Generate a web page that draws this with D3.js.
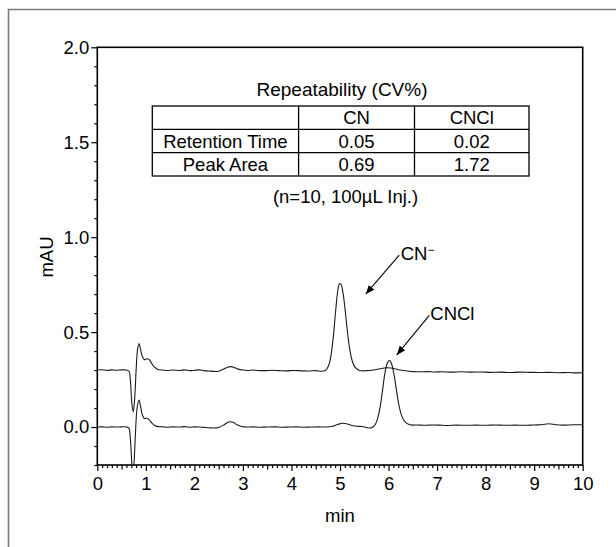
<!DOCTYPE html>
<html>
<head>
<meta charset="utf-8">
<script src="https://cdn.jsdelivr.net/npm/d3@7/dist/d3.min.js"></script>
<style>
  body { margin: 0; background: #fff; }
  svg text { font-family: "Liberation Sans", Arial, sans-serif; fill: #000; }
</style>
</head>
<body>
<svg id="chart" width="616" height="547"></svg>
<script>
// chromatogram traces: [min, mAU]
const cnTrace = [
  [0, 0.300], [0.1, 0.302], [0.2, 0.298], [0.3, 0.301], [0.4, 0.299], [0.5, 0.301], [0.6, 0.300],
  [0.65, 0.295], [0.68, 0.25], [0.71, 0.13], [0.74, 0.08], [0.77, 0.15], [0.80, 0.30], [0.83, 0.41],
  [0.86, 0.44], [0.89, 0.41], [0.93, 0.37], [0.97, 0.355], [1.02, 0.36], [1.07, 0.355], [1.12, 0.335],
  [1.18, 0.315], [1.25, 0.303], [1.35, 0.300], [1.45, 0.298], [1.55, 0.300], [1.7, 0.298], [1.8, 0.301],
  [1.9, 0.297], [2.0, 0.299], [2.1, 0.301], [2.2, 0.297], [2.3, 0.295], [2.4, 0.293], [2.5, 0.294],
  [2.6, 0.304], [2.68, 0.315], [2.75, 0.318], [2.82, 0.314], [2.9, 0.305], [3.0, 0.300], [3.1, 0.298],
  [3.2, 0.300], [3.3, 0.298], [3.45, 0.297], [3.6, 0.299], [3.75, 0.297], [3.9, 0.296], [4.05, 0.298],
  [4.2, 0.296], [4.35, 0.295], [4.5, 0.297], [4.62, 0.294], [4.7, 0.298], [4.76, 0.32], [4.81, 0.37],
  [4.86, 0.47], [4.91, 0.61], [4.95, 0.71], [4.99, 0.755], [5.02, 0.752], [5.06, 0.71], [5.1, 0.63],
  [5.15, 0.51], [5.2, 0.41], [5.25, 0.35], [5.3, 0.318], [5.37, 0.302], [5.45, 0.296], [5.55, 0.297],
  [5.65, 0.299], [5.75, 0.303], [5.85, 0.308], [5.95, 0.312], [6.05, 0.311], [6.15, 0.306], [6.25, 0.300],
  [6.35, 0.296], [6.5, 0.292], [6.65, 0.291], [6.8, 0.292], [6.95, 0.290], [7.1, 0.291], [7.3, 0.289],
  [7.5, 0.291], [7.7, 0.289], [7.9, 0.290], [8.1, 0.288], [8.3, 0.289], [8.5, 0.287], [8.7, 0.289],
  [8.9, 0.288], [9.1, 0.287], [9.3, 0.288], [9.5, 0.286], [9.7, 0.287], [9.85, 0.285], [10, 0.286]
];
const cnclTrace = [
  [0, 0.000], [0.1, 0.001], [0.2, -0.001], [0.3, 0.001], [0.4, 0.000], [0.5, 0.001], [0.6, 0.000],
  [0.65, -0.006], [0.68, -0.06], [0.71, -0.19], [0.73, -0.27], [0.755, -0.20], [0.785, -0.04],
  [0.82, 0.10], [0.86, 0.142], [0.89, 0.11], [0.93, 0.062], [0.97, 0.045], [1.02, 0.046], [1.07, 0.038],
  [1.12, 0.022], [1.18, 0.008], [1.25, 0.002], [1.35, 0.001], [1.45, -0.001], [1.55, 0.001],
  [1.7, 0.000], [1.8, 0.002], [1.9, -0.001], [2.0, 0.001], [2.1, 0.000], [2.2, -0.002], [2.3, -0.004],
  [2.4, -0.005], [2.5, -0.002], [2.6, 0.010], [2.67, 0.022], [2.73, 0.028], [2.8, 0.025], [2.88, 0.012],
  [2.97, 0.003], [3.1, 0.000], [3.2, 0.001], [3.35, -0.001], [3.5, 0.000], [3.65, 0.001], [3.8, -0.001],
  [3.95, 0.000], [4.1, 0.001], [4.25, -0.001], [4.4, 0.000], [4.55, 0.001], [4.7, 0.000], [4.85, 0.004],
  [4.95, 0.013], [5.05, 0.020], [5.15, 0.016], [5.25, 0.008], [5.35, 0.004], [5.45, 0.003], [5.55, -0.003],
  [5.62, -0.005], [5.68, 0.000], [5.73, 0.015], [5.78, 0.05], [5.83, 0.11], [5.88, 0.20], [5.93, 0.29],
  [5.98, 0.340], [6.02, 0.350], [6.06, 0.335], [6.11, 0.28], [6.16, 0.20], [6.21, 0.12], [6.27, 0.06],
  [6.33, 0.03], [6.4, 0.016], [6.5, 0.010], [6.6, 0.011], [6.75, 0.009], [6.9, 0.011], [7.05, 0.010],
  [7.2, 0.008], [7.4, 0.010], [7.6, 0.009], [7.8, 0.010], [8.0, 0.009], [8.2, 0.011], [8.4, 0.009],
  [8.6, 0.010], [8.8, 0.009], [9.0, 0.011], [9.15, 0.012], [9.3, 0.017], [9.45, 0.012], [9.6, 0.010],
  [9.8, 0.012], [10, 0.012]
];

const xMajor = [0, 1, 2, 3, 4, 5, 6, 7, 8, 9, 10];
const yMajor = [0.0, 0.5, 1.0, 1.5, 2.0];

const tableTitle = "Repeatability (CV%)";
const tableHeader = ["", "CN", "CNCl"];
const tableRows = [
  ["Retention Time", "0.05", "0.02"],
  ["Peak Area", "0.69", "1.72"]
];
const tableNote = "(n=10, 100\u00b5L Inj.)";

// peak labels: text position, arrow start, arrow tip (data units)
const peakLabels = [
  { text: "CN", sup: "\u2212", at: [6.25, 0.915], from: [6.22, 0.905], to: [5.53, 0.70] },
  { text: "CNCl", sup: "", at: [6.86, 0.600], from: [6.84, 0.588], to: [6.17, 0.38] }
];

const svg = d3.select("#chart");
const margin = { left: 97.3, right: 33.3, top: 47.3, bottom: 82 };
const width = 616 - margin.left - margin.right;
const height = 547 - margin.top - margin.bottom;
const fontSize = 18.5;

// outer frame
svg.append("path")
  .attr("d", "M8.5,547 L8.5,9.5 L616,9.5")
  .attr("fill", "none")
  .attr("stroke", "#7a7a7a")
  .attr("stroke-width", 1.6);

const g = svg.append("g").attr("transform", `translate(${margin.left},${margin.top})`);

const x = d3.scaleLinear().domain([0, 10]).range([0, width]);
const y = d3.scaleLinear().domain([-0.2, 2.0]).range([height, 0]);

svg.append("defs").append("clipPath").attr("id", "plotClip")
  .append("rect").attr("width", width).attr("height", height);

const xMinor = d3.range(0, 101).map(d => d / 10).filter(d => !xMajor.includes(d));
const xHalf = xMinor.filter(d => Math.abs(d * 2 - Math.round(d * 2)) < 1e-6);
const xSmall = xMinor.filter(d => !xHalf.includes(d));
const yMinor = d3.range(-2, 21).map(d => d / 10).filter(d => !yMajor.some(v => Math.abs(v - d) < 1e-6));

function styleAxis(sel) {
  sel.select(".domain").remove();
  sel.selectAll("line").attr("stroke", "#000").attr("stroke-width", 1.2);
  sel.selectAll("text").attr("font-size", fontSize).attr("font-family", "'Liberation Sans', Arial, sans-serif");
}

g.append("g").attr("transform", `translate(0,${height})`)
  .call(d3.axisBottom(x).tickValues(xSmall).tickSize(3).tickFormat(""))
  .call(styleAxis);
g.append("g").attr("transform", `translate(0,${height})`)
  .call(d3.axisBottom(x).tickValues(xHalf).tickSize(4.5).tickFormat(""))
  .call(styleAxis);
g.append("g").attr("transform", `translate(0,${height})`)
  .call(d3.axisBottom(x).tickValues(xMajor).tickSize(6).tickPadding(6).tickFormat(d3.format("d")))
  .call(styleAxis);

g.append("g")
  .call(d3.axisLeft(y).tickValues(yMinor).tickSize(3).tickFormat(""))
  .call(styleAxis);
g.append("g")
  .call(d3.axisLeft(y).tickValues(yMajor).tickSize(6).tickPadding(2).tickFormat(d3.format(".1f")))
  .call(styleAxis);

// plot box
g.append("rect")
  .attr("width", width).attr("height", height)
  .attr("fill", "none").attr("stroke", "#000").attr("stroke-width", 1.6);

// traces
const line = d3.line()
  .x(d => x(d[0])).y(d => y(d[1]))
  .curve(d3.curveCatmullRom.alpha(0.5));

[cnTrace, cnclTrace].forEach(tr => {
  g.append("path")
    .datum(tr)
    .attr("clip-path", "url(#plotClip)")
    .attr("fill", "none")
    .attr("stroke", "#1a1a1a")
    .attr("stroke-width", 1.1)
    .attr("d", line);
});

// axis titles
svg.append("text")
  .attr("x", margin.left + width / 2).attr("y", 522)
  .attr("text-anchor", "middle").attr("font-size", fontSize)
  .text("min");
svg.append("text")
  .attr("transform", "translate(53,257) rotate(-90)")
  .attr("text-anchor", "middle").attr("font-size", fontSize)
  .text("mAU");

// repeatability table
const colEdges = [152.3, 298.6, 414.5, 529];
const rowEdges = [106, 129.3, 152.7, 176];
const table = svg.append("g");
const allRows = [tableHeader].concat(tableRows);

table.append("text")
  .attr("x", 342).attr("y", 96)
  .attr("text-anchor", "middle").attr("font-size", 19)
  .text(tableTitle);

table.append("rect")
  .attr("x", colEdges[0]).attr("y", rowEdges[0])
  .attr("width", colEdges[3] - colEdges[0]).attr("height", rowEdges[3] - rowEdges[0])
  .attr("fill", "none").attr("stroke", "#000").attr("stroke-width", 1.3);
rowEdges.slice(1, -1).forEach(ry => {
  table.append("line")
    .attr("x1", colEdges[0]).attr("x2", colEdges[3]).attr("y1", ry).attr("y2", ry)
    .attr("stroke", "#000").attr("stroke-width", 1.3);
});
colEdges.slice(1, -1).forEach(cx => {
  table.append("line")
    .attr("x1", cx).attr("x2", cx).attr("y1", rowEdges[0]).attr("y2", rowEdges[3])
    .attr("stroke", "#000").attr("stroke-width", 1.3);
});
allRows.forEach((row, ri) => {
  row.forEach((cell, ci) => {
    table.append("text")
      .attr("x", (colEdges[ci] + colEdges[ci + 1]) / 2)
      .attr("y", (rowEdges[ri] + rowEdges[ri + 1]) / 2 + 6.5)
      .attr("text-anchor", "middle").attr("font-size", 18.5)
      .text(cell);
  });
});

table.append("text")
  .attr("x", 345.5).attr("y", 203)
  .attr("text-anchor", "middle").attr("font-size", 18.5)
  .text(tableNote);

// peak labels with arrows
const defs = svg.select("defs");
defs.append("marker")
  .attr("id", "arrowHead")
  .attr("viewBox", "0 0 10 10")
  .attr("refX", 10).attr("refY", 5)
  .attr("markerWidth", 9).attr("markerHeight", 9)
  .attr("markerUnits", "userSpaceOnUse")
  .attr("orient", "auto")
  .append("path")
  .attr("d", "M0,1 L10,5 L0,9 Z")
  .attr("fill", "#000");

peakLabels.forEach(p => {
  g.append("line")
    .attr("x1", x(p.from[0])).attr("y1", y(p.from[1]))
    .attr("x2", x(p.to[0])).attr("y2", y(p.to[1]))
    .attr("stroke", "#000").attr("stroke-width", 1.1)
    .attr("marker-end", "url(#arrowHead)");
  const t = g.append("text")
    .attr("x", x(p.at[0])).attr("y", y(p.at[1]) + 6.5)
    .attr("font-size", fontSize)
    .text(p.text);
  if (p.sup) {
    t.append("tspan").attr("dy", -6).attr("font-size", 12).text(p.sup);
  }
});
</script>
</body>
</html>
